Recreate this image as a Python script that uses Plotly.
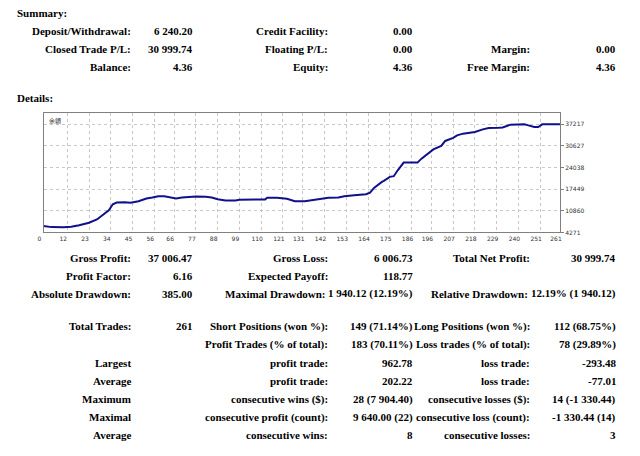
import plotly.graph_objects as go

# ---------------- data ----------------
trade_no = [0, 4, 10, 14, 18, 23, 27, 30, 33, 35, 37, 41, 44, 48, 52, 55, 58, 61, 64, 67,
            70, 73, 77, 82, 85, 88, 92, 97, 99, 107, 110, 112, 113, 118, 123, 127, 132, 137,
            141, 144, 149, 152, 157, 163, 165, 167, 171, 172, 175, 177, 179, 182, 186, 189,
            191, 194, 197, 201, 203, 207, 209, 212, 216, 218, 222, 225, 230, 232, 236, 240,
            243, 245, 248, 250, 252, 256, 261]
balance = [6240, 5900, 5855, 6000, 6500, 7220, 8220, 9530, 11050, 12880, 13390, 13490, 13300,
           13790, 14610, 14910, 15310, 15310, 15010, 14650, 14910, 15050, 15220, 15130, 14910,
           14400, 14000, 14000, 14210, 14310, 14400, 14310, 14820, 14820, 14520, 13790, 13790,
           14210, 14610, 14820, 14910, 15310, 15610, 15920, 16430, 17860, 19690, 19990, 21210,
           21420, 23220, 25560, 25560, 25560, 26770, 28080, 29600, 30640, 32160, 33070, 33860,
           34380, 34680, 34900, 35690, 36110, 36200, 36290, 37120, 37210, 37210, 36900, 36410,
           36410, 37210, 37210, 37240]

x_ticks = [0, 12, 23, 34, 45, 56, 66, 77, 88, 99, 110, 121, 131, 142, 153, 164, 175, 186,
           196, 207, 218, 229, 240, 251, 261]
y_ticks = [4271, 10860, 17449, 24038, 30627, 37217]
chart_label = "余額"

summary_rows = [
    ["Deposit/Withdrawal:", "6 240.20", "Credit Facility:", "0.00", "", ""],
    ["Closed Trade P/L:", "30 999.74", "Floating P/L:", "0.00", "Margin:", "0.00"],
    ["Balance:", "4.36", "Equity:", "4.36", "Free Margin:", "4.36"],
]
stats_rows = [
    ["Gross Profit:", "37 006.47", "Gross Loss:", "6 006.73", "Total Net Profit:", "30 999.74"],
    ["Profit Factor:", "6.16", "Expected Payoff:", "118.77", "", ""],
    ["Absolute Drawdown:", "385.00", "Maximal Drawdown:", "1 940.12 (12.19%)",
     "Relative Drawdown:", "12.19% (1 940.12)"],
]
trade_rows = [
    ["Total Trades:", "261", "Short Positions (won %):", "149 (71.14%)",
     "Long Positions (won %):", "112 (68.75%)"],
    ["", "", "Profit Trades (% of total):", "183 (70.11%)",
     "Loss trades (% of total):", "78 (29.89%)"],
    ["Largest", "", "profit trade:", "962.78", "loss trade:", "-293.48"],
    ["Average", "", "profit trade:", "202.22", "loss trade:", "-77.01"],
    ["Maximum", "", "consecutive wins ($):", "28 (7 904.40)",
     "consecutive losses ($):", "14 (-1 330.44)"],
    ["Maximal", "", "consecutive profit (count):", "9 640.00 (22)",
     "consecutive loss (count):", "-1 330.44 (14)"],
    ["Average", "", "consecutive wins:", "8", "consecutive losses:", "3"],
]

# ---------------- layout constants ----------------
W, H = 640, 456
col_right = [128, 190, 327, 413, 532, 619]
summary_y = [31, 49, 67.3]
stats_y = [259.3, 277.7, 295.7]
trade_y = [328.3, 346.7, 365, 383.3, 401.7, 420, 438.3]
FONT = "Liberation Serif, Times New Roman, serif"
FS = 11

fig = go.Figure()
fig.add_trace(go.Scatter(x=trade_no, y=balance, mode="lines",
                         line=dict(color="#10108a", width=2), hoverinfo="skip"))

annotations = []


def txt(px, py, s, anchor="right", size=FS):
    if not s:
        return
    annotations.append(dict(
        x=px / W, y=1 - py / H, xref="paper", yref="paper",
        text="<b>" + s + "</b>", showarrow=False, xanchor=anchor, yanchor="middle",
        borderpad=0, font=dict(family=FONT, size=size, color="#000000")))


txt(10, 12.7, "Summary:", "left")
txt(10, 98.3, "Details:", "left")

for rows, ys in [(summary_rows, summary_y), (stats_rows, stats_y), (trade_rows, trade_y)]:
    for row, yy in zip(rows, ys):
        for i, s in enumerate(row):
            xr = col_right[i]
            if s == "Maximal Drawdown:":
                xr = 325
            if s == "Relative Drawdown:":
                xr = 530
            txt(xr, yy, s)

annotations.append(dict(
    x=43 / W, y=1 - 121 / H, xref="paper", yref="paper", text=chart_label,
    showarrow=False, xanchor="left", yanchor="middle", borderpad=0,
    font=dict(family="Noto Sans CJK TC", size=6, color="#333333")))

x0, x1, yt, yb = 38, 561, 114, 234
fig.update_layout(
    width=W, height=H, margin=dict(l=0, r=0, t=0, b=0),
    paper_bgcolor="white", plot_bgcolor="white", showlegend=False,
    annotations=annotations,
    xaxis=dict(domain=[x0 / W, x1 / W], range=[0, 261], tickmode="array",
               tickvals=x_ticks, ticktext=[str(v) for v in x_ticks],
               showgrid=True, gridcolor="#c8c8c8", griddash="dot", gridwidth=1,
               showline=True, linecolor="#808080", linewidth=1, mirror=True,
               ticks="", ticklabelshift=-4, ticklabelstandoff=0,
               tickfont=dict(family="DejaVu Sans", size=6, color="#333333"),
               zeroline=False, fixedrange=True),
    yaxis=dict(domain=[1 - yb / H, 1 - yt / H], range=[4271, 40600], side="right",
               tickmode="array", tickvals=y_ticks, ticktext=[str(v) for v in y_ticks],
               showgrid=True, gridcolor="#c8c8c8", griddash="dot", gridwidth=1,
               showline=True, linecolor="#808080", linewidth=1, mirror=True,
               ticks="outside", ticklen=3, tickcolor="#808080",
               tickfont=dict(family="DejaVu Sans", size=6, color="#333333"),
               zeroline=False, fixedrange=True),
)

fig.write_html("out.html", config={"displayModeBar": False},
               post_script="document.body.style.margin='0';")
